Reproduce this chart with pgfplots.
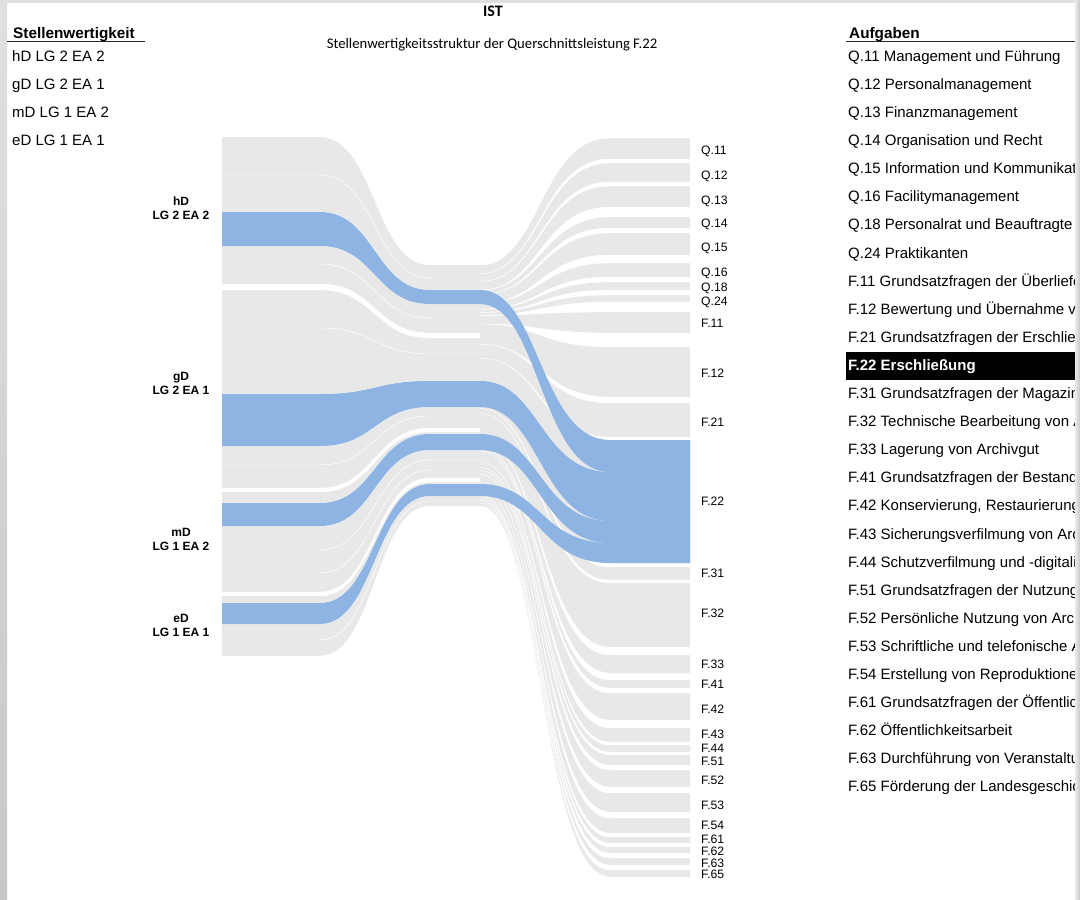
\documentclass[border=0pt]{standalone}
\usepackage{pgfplots}
\pgfplotsset{compat=1.18}
\usepackage{fontspec}
\setmainfont{Liberation Sans}
\newfontfamily\calibri{Carlito}

\definecolor{flowgrey}{HTML}{E8E8E8}
\definecolor{flowblue}{HTML}{8EB4E3}

% flows are given by their edges in picture units (y downwards):
% left node at x=222, middle column x=430..480, right node at x=690
\newcommand{\lflow}[4]{% yL1 yL2 yM1 yM2
  \fill[flowgrey] (222,#1) -- (320,#1) .. controls (375,#1) and (375,#3) .. (430,#3) -- (480,#3)
    -- (480,#4) -- (430,#4) .. controls (375,#4) and (375,#2) .. (320,#2) -- (222,#2) -- cycle;
  \draw[white,line width=0.4pt] (222,#1) -- (320,#1) .. controls (375,#1) and (375,#3) .. (430,#3) -- (480,#3);
  \draw[white,line width=0.4pt] (222,#2) -- (320,#2) .. controls (375,#2) and (375,#4) .. (430,#4) -- (480,#4);
}
\newcommand{\rflow}[4]{% yM1 yM2 yR1 yR2
  \fill[flowgrey] (480,#1) .. controls (540,#1) and (540,#3) .. (610,#3) -- (690,#3)
    -- (690,#4) -- (610,#4) .. controls (540,#4) and (540,#2) .. (480,#2) -- cycle;
  \draw[white,line width=0.35pt] (480,#1) .. controls (540,#1) and (540,#3) .. (610,#3) -- (690,#3);
  \draw[white,line width=0.35pt] (480,#2) .. controls (540,#2) and (540,#4) .. (610,#4) -- (690,#4);
}
\newcommand{\bflow}[6]{% yL1 yL2 yM1 yM2 yR1 yR2
  \fill[flowblue] (222,#1) -- (320,#1) .. controls (375,#1) and (375,#3) .. (430,#3) -- (480,#3)
    .. controls (540,#3) and (540,#5) .. (610,#5) -- (690,#5)
    -- (690,#6) -- (610,#6) .. controls (540,#6) and (540,#4) .. (480,#4)
    -- (430,#4) .. controls (375,#4) and (375,#2) .. (320,#2) -- (222,#2) -- cycle;
}
\newcommand{\itemfont}{\fontsize{15}{17}\selectfont}
\newcommand{\task}[2]{\node[anchor=base west,inner sep=0,font=\itemfont] at (848,{61.3+28.1*#1}) {#2};}
\newcommand{\tlabel}[2]{\node[anchor=base west,inner sep=0,font=\fontsize{12.2}{14}\selectfont] at (701,{#1+4.3}) {#2};}
\newcommand{\slabel}[3]{\node[align=center,inner sep=0,font=\bfseries\fontsize{12}{14}\selectfont] at (181,#1) {#2\\#3};}

\begin{document}
\begin{tikzpicture}
\begin{axis}[
  width=1080pt, height=900pt, scale only axis,
  xmin=0, xmax=1080, ymin=0, ymax=900, y dir=reverse,
  hide axis, clip=true,
]
% page frame
\fill[white] (0,0) rectangle (1080,900);
\shade[top color=black!12, bottom color=black!22] (0,0) rectangle (7,900);
\fill[black!12] (0,0) rectangle (1080,3);

% left half: Stellenwertigkeit -> middle column
\lflow{137}{175}{265}{278}
\lflow{175}{212}{278}{290}
\lflow{212}{246}{290}{304}
\lflow{246}{264}{304}{318}
\lflow{264}{284}{318}{333}
\lflow{290}{328}{338}{354}
\lflow{328}{394}{354}{381}
\lflow{394}{446}{381}{407}
\lflow{446}{465}{407}{416}
\lflow{465}{488}{416}{428}
\lflow{492}{503}{432}{434}
\lflow{503}{526}{434}{450}
\lflow{526}{550}{450}{460}
\lflow{550}{573}{460}{470}
\lflow{573}{592}{470}{478}
\lflow{596}{603}{482}{484}
\lflow{603}{624}{484}{496}
\lflow{624}{640}{496}{501}
\lflow{640}{656}{501}{506}

% right half: middle column -> Aufgaben
\rflow{265.0}{273.6}{138}{159}
\rflow{273.6}{281.4}{163}{182}
\rflow{281.4}{290.0}{186}{207}
\rflow{290.0}{294.5}{217}{228}
\rflow{294.5}{303.5}{233}{255}
\rflow{303.5}{309.2}{263}{277}
\rflow{309.2}{312.5}{282}{290}
\rflow{312.5}{315.4}{295}{302}
\rflow{315.4}{324.0}{312}{333}
\rflow{324.0}{344.4}{347}{397}
\rflow{344.4}{358.3}{403}{437}
\rflow{358.3}{408.6}{440}{563}
\rflow{408.6}{413.9}{567}{580}
\rflow{413.9}{440.1}{583}{647}
\rflow{440.1}{447.5}{655}{673}
\rflow{447.5}{450.8}{680}{688}
\rflow{450.8}{461.8}{693}{720}
\rflow{461.8}{467.5}{728}{742}
\rflow{467.5}{470.4}{745}{752}
\rflow{470.4}{474.5}{755}{765}
\rflow{474.5}{481.5}{770}{787}
\rflow{481.5}{489.3}{793}{812}
\rflow{489.3}{495.4}{818}{833}
\rflow{495.4}{497.9}{837}{843}
\rflow{497.9}{500.3}{847}{853}
\rflow{500.3}{503.2}{858}{865}
\rflow{503.2}{506.0}{870}{877}

% highlighted flows into F.22
\bflow{212}{246}{290}{304}{440}{472}
\bflow{394}{446}{381}{407}{472}{521}
\bflow{503}{526}{434}{450}{521}{543}
\bflow{603}{624}{484}{496}{543}{563}

% titles
\node[anchor=base,inner sep=0,font=\calibri\bfseries\fontsize{16}{18}\selectfont] at (493,16.7) {IST};
\node[anchor=base,inner sep=0,font=\calibri\fontsize{14.7}{17}\selectfont] at (492,48.5) {Stellenwertigkeitsstruktur der Querschnittsleistung F.22};

% left legend
\node[anchor=base west,inner sep=0,font=\bfseries\fontsize{15.3}{18}\selectfont] at (13,38.5) {Stellenwertigkeit};
\draw[black!85,line width=1.3pt] (7,41.7) -- (145,41.7);
\node[anchor=base west,inner sep=0,font=\itemfont] at (12,61.3) {hD LG 2 EA 2};
\node[anchor=base west,inner sep=0,font=\itemfont] at (12,89.4) {gD LG 2 EA 1};
\node[anchor=base west,inner sep=0,font=\itemfont] at (12,117.5) {mD LG 1 EA 2};
\node[anchor=base west,inner sep=0,font=\itemfont] at (12,145.6) {eD LG 1 EA 1};

% source labels
\slabel{208}{hD}{LG 2 EA 2}
\slabel{383}{gD}{LG 2 EA 1}
\slabel{539}{mD}{LG 1 EA 2}
\slabel{625}{eD}{LG 1 EA 1}

% target labels
\tlabel{150}{Q.11}
\tlabel{175}{Q.12}
\tlabel{200}{Q.13}
\tlabel{223}{Q.14}
\tlabel{247}{Q.15}
\tlabel{272}{Q.16}
\tlabel{287}{Q.18}
\tlabel{301}{Q.24}
\tlabel{323}{F.11}
\tlabel{373}{F.12}
\tlabel{422}{F.21}
\tlabel{501}{F.22}
\tlabel{573}{F.31}
\tlabel{613}{F.32}
\tlabel{664}{F.33}
\tlabel{684}{F.41}
\tlabel{709}{F.42}
\tlabel{734}{F.43}
\tlabel{748}{F.44}
\tlabel{761}{F.51}
\tlabel{780}{F.52}
\tlabel{805}{F.53}
\tlabel{825}{F.54}
\tlabel{839}{F.61}
\tlabel{851}{F.62}
\tlabel{863}{F.63}
\tlabel{874}{F.65}

% right legend
\node[anchor=base west,inner sep=0,font=\bfseries\fontsize{15.3}{18}\selectfont] at (849,38.5) {Aufgaben};
\draw[black!85,line width=1.3pt] (846,41.7) -- (1080,41.7);
\task{0}{Q.11 Management und Führung}
\task{1}{Q.12 Personalmanagement}
\task{2}{Q.13 Finanzmanagement}
\task{3}{Q.14 Organisation und Recht}
\task{4}{Q.15 Information und Kommunikation}
\task{5}{Q.16 Facilitymanagement}
\task{6}{Q.18 Personalrat und Beauftragte}
\task{7}{Q.24 Praktikanten}
\task{8}{F.11 Grundsatzfragen der Überlieferungsbildung}
\task{9}{F.12 Bewertung und Übernahme von Archivgut}
\task{10}{F.21 Grundsatzfragen der Erschließung}
\fill[black] (846,352) rectangle (1080,380);
\node[anchor=base west,inner sep=0,text=white,font=\bfseries\itemfont] at (848,{61.3+28.1*11}) {F.22 Erschließung};
\task{12}{F.31 Grundsatzfragen der Magazinierung}
\task{13}{F.32 Technische Bearbeitung von Archivgut}
\task{14}{F.33 Lagerung von Archivgut}
\task{15}{F.41 Grundsatzfragen der Bestandserhaltung}
\task{16}{F.42 Konservierung, Restaurierung und Reparatur}
\task{17}{F.43 Sicherungsverfilmung von Archivgut}
\task{18}{F.44 Schutzverfilmung und -digitalisierung}
\task{19}{F.51 Grundsatzfragen der Nutzung}
\task{20}{F.52 Persönliche Nutzung von Archivgut}
\task{21}{F.53 Schriftliche und telefonische Auskünfte}
\task{22}{F.54 Erstellung von Reproduktionen}
\task{23}{F.61 Grundsatzfragen der Öffentlichkeitsarbeit}
\task{24}{F.62 Öffentlichkeitsarbeit}
\task{25}{F.63 Durchführung von Veranstaltungen}
\task{26}{F.65 Förderung der Landesgeschichte}

\shade[left color=black!8, right color=black!22] (1075,0) rectangle (1080,900);
\end{axis}
\pgfresetboundingbox
\useasboundingbox (current axis.south west) rectangle (current axis.north east);
\end{tikzpicture}
\end{document}
